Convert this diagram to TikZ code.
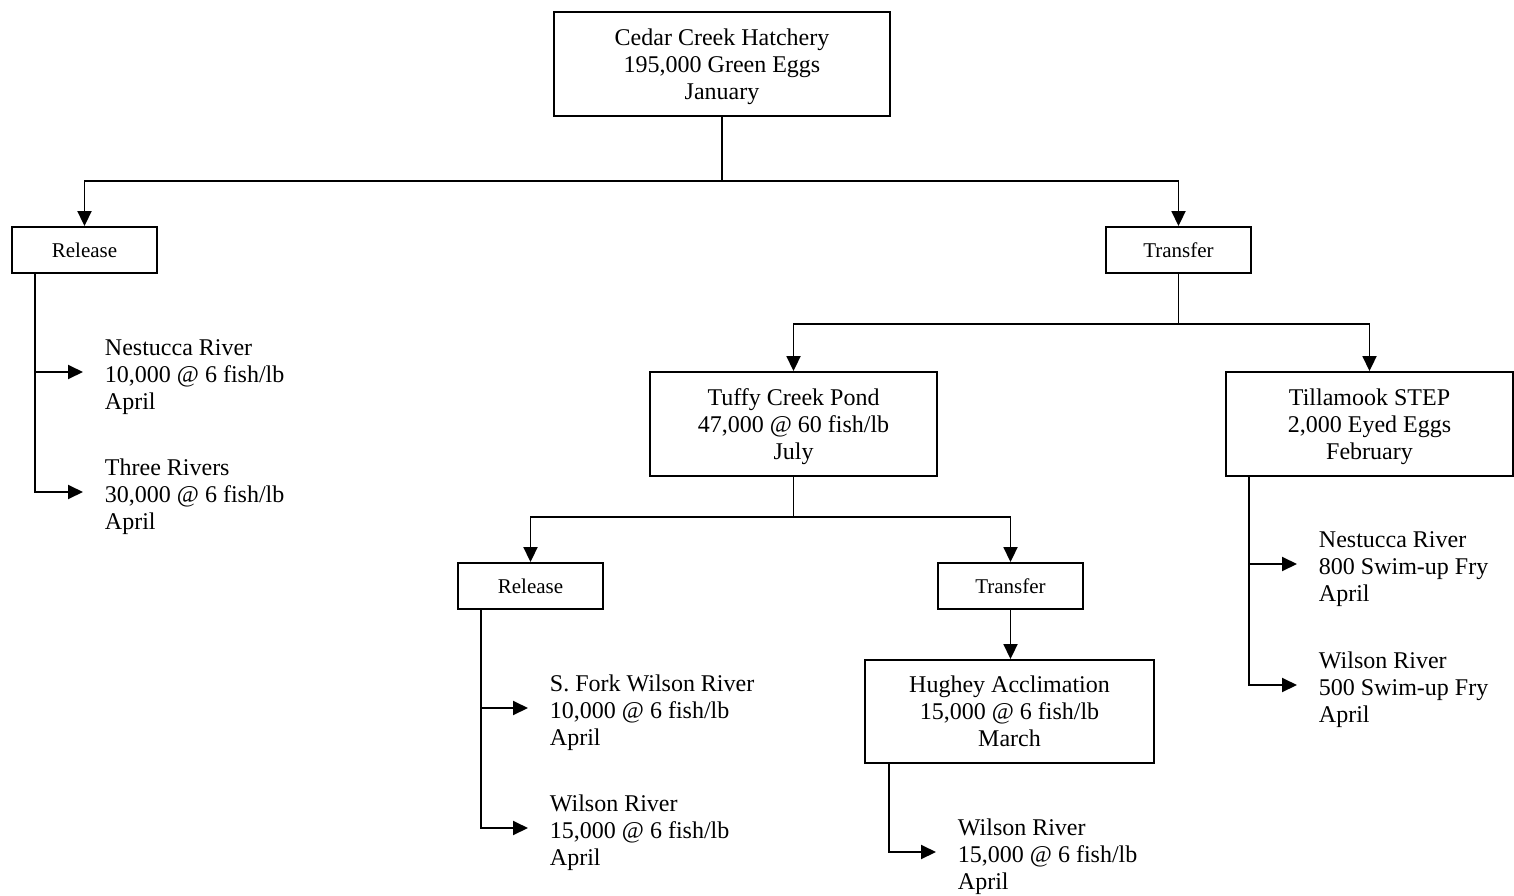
\documentclass[tikz,border=0pt]{standalone}
\usepackage{fontspec}
\setmainfont{Liberation Serif}
\usetikzlibrary{arrows.meta}
\begin{document}
\begin{tikzpicture}[x=1pt,y=-1pt,
  line width=1.9pt,
  bigbox/.style={draw, align=center, inner sep=0pt, text depth=0pt,
    minimum width=287pt, minimum height=104pt,
    font=\fontsize{24}{27}\selectfont},
  smallbox/.style={draw, align=center, inner sep=0pt,
    minimum width=145pt, minimum height=46pt,
    font=\fontsize{21}{24}\selectfont},
  leaf/.style={anchor=west, align=left, inner sep=0pt,
    font=\fontsize{24}{27}\selectfont},
  arr/.style={-{Triangle[length=15pt,width=14pt]}},
  tap/.style={arr, shorten >=21pt}]
\useasboundingbox (0,0) rectangle (1514,896);

% boxes
\node[bigbox, minimum width=336pt] (hatch) at (722,64)
  {Cedar Creek Hatchery\\195,000 Green Eggs\\January};
\node[smallbox] (rel1) at (84.5,250) {Release};
\node[smallbox] (tr1) at (1178.5,250) {Transfer};
\node[bigbox] (tuffy) at (793.5,424) {Tuffy Creek Pond\\47,000 @ 60 fish/lb\\July};
\node[bigbox] (till) at (1369.5,424) {Tillamook STEP\\2,000 Eyed Eggs\\February};
\node[smallbox] (rel2) at (530.5,586) {Release};
\node[smallbox] (tr2) at (1010.5,586) {Transfer};
\node[bigbox, minimum width=289pt, minimum height=103pt] (hugh) at (1009.5,711.5)
  {Hughey Acclimation\\15,000 @ 6 fish/lb\\March};

% release destinations (text sits a little below its arrow)
\node[leaf] (nest1) at (104,377) {Nestucca River\\10,000 @ 6 fish/lb\\April};
\node[leaf] (three) at (104,497) {Three Rivers\\30,000 @ 6 fish/lb\\April};
\node[leaf] (sfork) at (549,713) {S. Fork Wilson River\\10,000 @ 6 fish/lb\\April};
\node[leaf] (wil1) at (549,833) {Wilson River\\15,000 @ 6 fish/lb\\April};
\node[leaf] (wil2) at (957,857) {Wilson River\\15,000 @ 6 fish/lb\\April};
\node[leaf] (nest2) at (1318,569) {Nestucca River\\800 Swim-up Fry\\April};
\node[leaf] (wil3) at (1318,690) {Wilson River\\500 Swim-up Fry\\April};

% tree connectors
\draw[arr] (hatch.south) -- ++(0,64) -| (rel1.north);
\draw[arr] (hatch.south) -- ++(0,64) -| (tr1.north);
\draw[arr] (tr1.south) -- ++(0,50) -| (tuffy.north);
\draw[arr] (tr1.south) -- ++(0,50) -| (till.north);
\draw[arr] (tuffy.south) -- ++(0,40) -| (rel2.north);
\draw[arr] (tuffy.south) -- ++(0,40) -| (tr2.north);
\draw[arr] (tr2.south) -- (tr2.south |- hugh.north);

% side taps
\draw[tap] ([xshift=24pt]rel1.south west) |- ([yshift=5pt]nest1.west);
\draw[tap] ([xshift=24pt]rel1.south west) |- ([yshift=5pt]three.west);
\draw[tap] ([xshift=24pt]rel2.south west) |- ([yshift=5pt]sfork.west);
\draw[tap] ([xshift=24pt]rel2.south west) |- ([yshift=5pt]wil1.west);
\draw[tap] ([xshift=25pt]hugh.south west) |- ([yshift=5pt]wil2.west);
\draw[tap] ([xshift=24pt]till.south west) |- ([yshift=5pt]nest2.west);
\draw[tap] ([xshift=24pt]till.south west) |- ([yshift=5pt]wil3.west);
\end{tikzpicture}
\end{document}
